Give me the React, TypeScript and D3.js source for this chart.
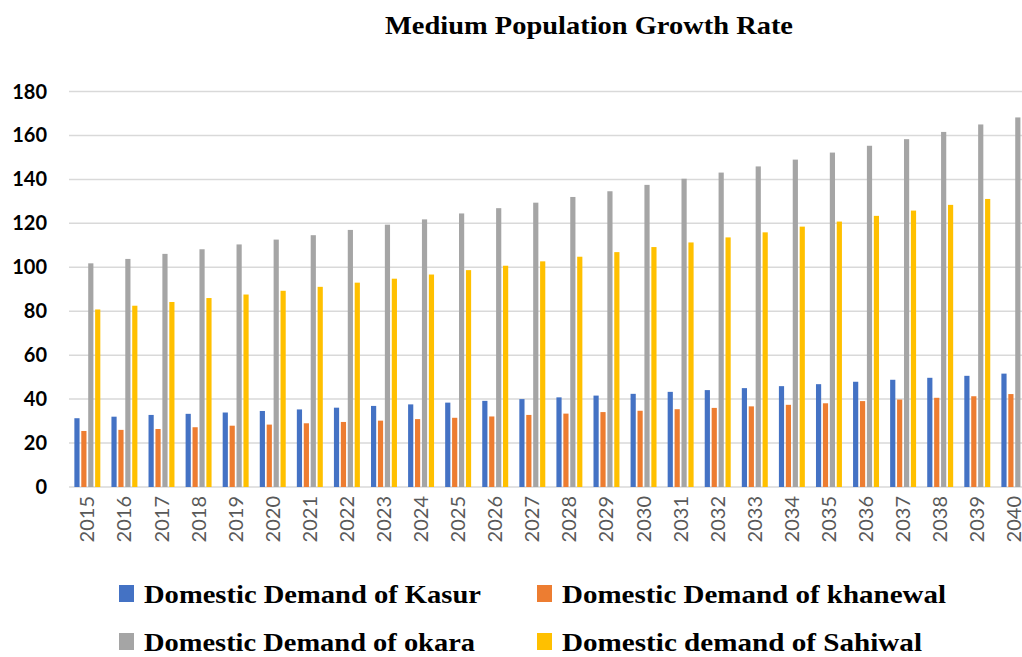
import React, { useEffect, useRef } from "react";
import * as d3 from "d3";

const years = ["2015","2016","2017","2018","2019","2020","2021","2022","2023","2024","2025","2026","2027","2028","2029","2030","2031","2032","2033","2034","2035","2036","2037","2038","2039","2040"];

const kasur = [31.3,32.0,32.8,33.3,33.9,34.6,35.3,36.1,36.9,37.6,38.4,39.2,40.0,40.8,41.6,42.4,43.3,44.1,45.0,45.9,46.8,47.9,48.8,49.7,50.6,51.6];
const khanewal = [25.5,26.0,26.4,27.2,27.9,28.4,29.0,29.6,30.2,30.9,31.5,32.1,32.8,33.4,34.1,34.7,35.4,36.0,36.7,37.4,38.1,39.1,39.8,40.6,41.3,42.3];
const okara = [101.8,103.8,106.1,108.2,110.4,112.6,114.6,117.0,119.4,121.8,124.5,126.9,129.4,132.0,134.6,137.5,140.3,143.1,145.9,149.0,152.2,155.3,158.3,161.6,165.0,168.2];
const sahiwal = [80.8,82.5,84.2,86.0,87.6,89.3,91.1,93.0,94.8,96.7,98.7,100.7,102.7,104.8,106.9,109.2,111.3,113.6,115.9,118.5,120.8,123.4,125.8,128.4,131.1,133.7];

const seriesNames = ["Domestic Demand of Kasur","Domestic Demand of khanewal","Domestic Demand of okara","Domestic demand of Sahiwal"];
const seriesValues = [kasur, khanewal, okara, sahiwal];
const colors = ["#4472C4","#ED7D31","#A5A5A5","#FFC000"];
const yTicks = [0,20,40,60,80,100,120,140,160,180];

export default function App() {
  const ref = useRef<SVGSVGElement>(null);

  useEffect(() => {
    const svg = d3.select(ref.current);
    svg.selectAll("*").remove();

    // plot runs a bit past the right edge, like the reference (last bar is cut)
    const x0 = d3.scaleBand().domain(years).range([68.8, 1032.9]).paddingInner(0.3).paddingOuter(0.15);
    const x1 = d3.scaleBand().domain(seriesNames).range([0, x0.bandwidth()]).paddingInner(0.25).paddingOuter(0);
    const y = d3.scaleLinear().domain([0, 180]).range([487, 91.5]);

    // title
    svg.append("text").attr("x", 589).attr("y", 34).attr("text-anchor", "middle")
      .attr("font-family", "Liberation Serif").attr("font-weight", "bold").attr("font-size", 26)
      .attr("textLength", 408).attr("lengthAdjust", "spacingAndGlyphs")
      .text("Medium Population Growth Rate");

    // gridlines
    svg.append("g").selectAll("line").data(yTicks).join("line")
      .attr("x1", 69).attr("x2", 1022)
      .attr("y1", d => y(d)).attr("y2", d => y(d))
      .attr("stroke", "#D9D9D9").attr("stroke-width", 1.5);

    // y labels
    svg.append("g").selectAll("text").data(yTicks).join("text")
      .attr("x", 47).attr("y", d => y(d)).attr("dy", "0.35em").attr("text-anchor", "end")
      .attr("font-family", "Lato").attr("font-weight", "bold").attr("font-size", 20).attr("fill", "#000")
      .text(d => d);

    // bars
    const rows = years.map((yr, i) => ({ yr, vals: seriesValues.map((s, k) => ({ k, v: s[i] })) }));
    svg.append("g").selectAll("g").data(rows).join("g")
      .attr("transform", d => `translate(${x0(d.yr)},0)`)
      .selectAll("rect").data(d => d.vals).join("rect")
      .attr("x", d => x1(seriesNames[d.k]) as number)
      .attr("width", x1.bandwidth())
      .attr("y", d => y(d.v))
      .attr("height", d => y(0) - y(d.v))
      .attr("fill", d => colors[d.k]);

    // x labels
    svg.append("g").selectAll("text").data(years).join("text")
      .attr("transform", d => `translate(${(x0(d) as number) + x0.bandwidth() / 2},496) rotate(-90)`)
      .attr("dy", "0.35em").attr("text-anchor", "end")
      .attr("font-family", "Lato").attr("font-size", 20).attr("fill", "#595959")
      .text(d => d);

    // legend
    const legendPos = [[119, 594], [537, 594], [119, 642], [537, 642]];
    const legendWidths = [337, 384, 331, 360];
    const lg = svg.append("g").selectAll("g").data(seriesNames).join("g")
      .attr("transform", (d, i) => `translate(${legendPos[i][0]},${legendPos[i][1]})`);
    lg.append("rect").attr("x", 0).attr("y", -9).attr("width", 15).attr("height", 17)
      .attr("fill", (d, i) => colors[i]);
    lg.append("text").attr("x", 25).attr("y", 9)
      .attr("font-family", "Liberation Serif").attr("font-weight", "bold").attr("font-size", 26)
      .attr("textLength", (d, i) => legendWidths[i]).attr("lengthAdjust", "spacingAndGlyphs")
      .text(d => d);
  }, []);

  return <svg ref={ref} width={1022} height={657} style={{ position: "absolute", left: 0, top: 0, background: "#fff" }} />;
}
